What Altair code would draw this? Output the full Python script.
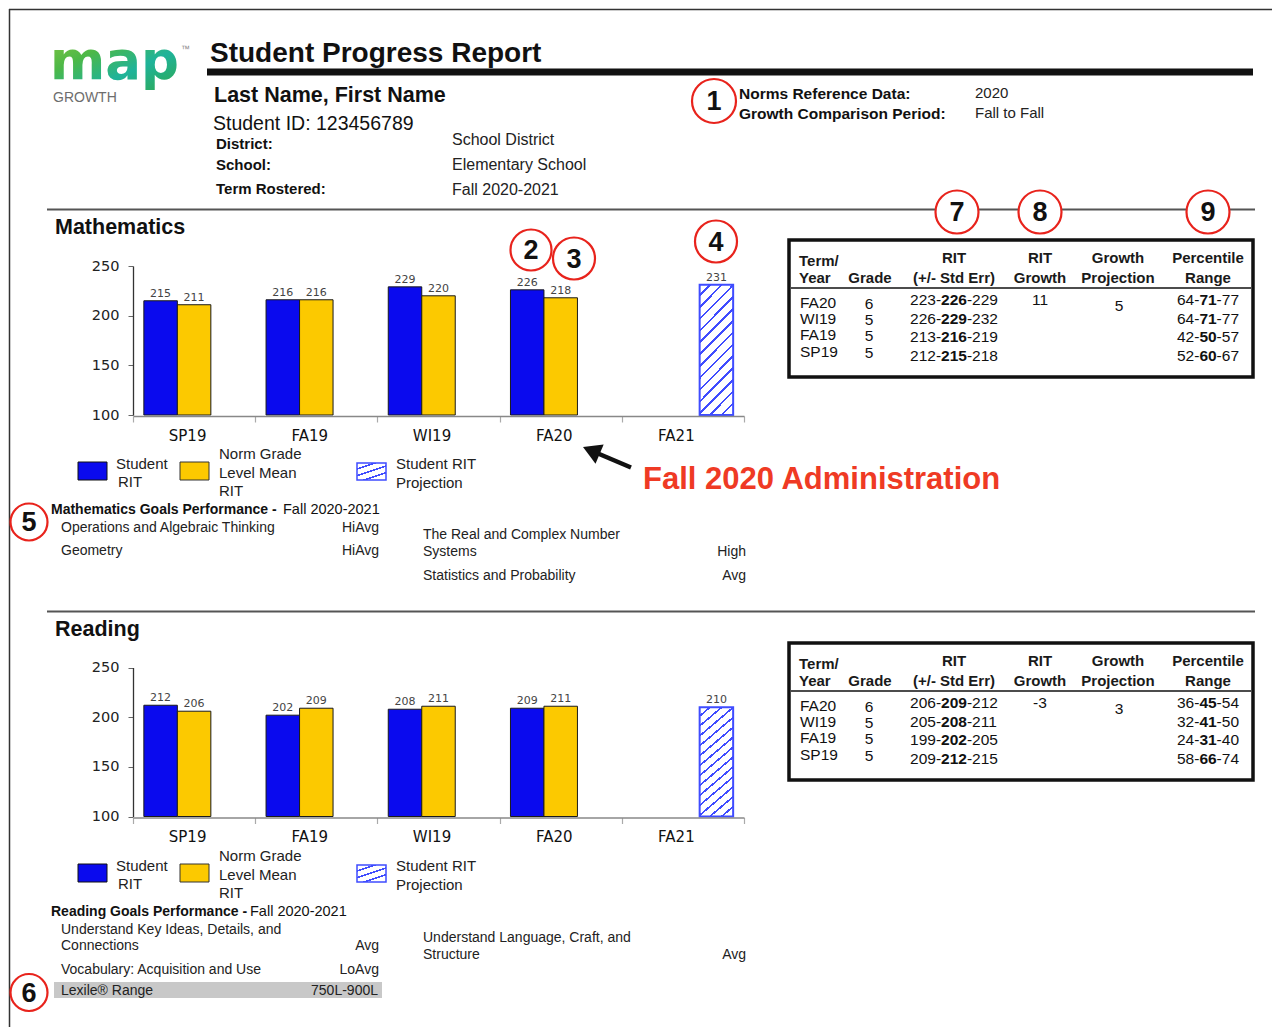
import altair as alt
import pandas as pd

W, H = 1272, 1027
SANS = "Liberation Sans, Arial, Helvetica, sans-serif"
DJV = "DejaVu Sans, Verdana, sans-serif"
RED = "#e8231c"
BLUE = "#0a0aee"
YELLOW = "#fcc900"
HATCH_BLUE = "#3f4cff"

# ---------------- data ----------------
terms = ["SP19", "FA19", "WI19", "FA20", "FA21"]
series = ["Student RIT", "Norm Grade Level Mean RIT", "Student RIT Projection"]
math_student = [215, 216, 229, 226]
math_norm = [211, 216, 220, 218]
math_projection = 231
read_student = [212, 202, 208, 209]
read_norm = [206, 209, 211, 211]
read_projection = 210
y_ticks = [100, 150, 200, 250]

table_terms = ["FA20", "WI19", "FA19", "SP19"]
table_grades = ["6", "5", "5", "5"]
math_rit_lo = ["223", "226", "213", "212"]
math_rit_mid = ["226", "229", "216", "215"]
math_rit_hi = ["229", "232", "219", "218"]
math_growth = "11"
math_growth_proj = "5"
math_pct_lo = ["64", "64", "42", "52"]
math_pct_mid = ["71", "71", "50", "60"]
math_pct_hi = ["77", "77", "57", "67"]
read_rit_lo = ["206", "205", "199", "209"]
read_rit_mid = ["209", "208", "202", "212"]
read_rit_hi = ["212", "211", "205", "215"]
read_growth = "-3"
read_growth_proj = "3"
read_pct_lo = ["36", "32", "24", "58"]
read_pct_mid = ["45", "41", "31", "66"]
read_pct_hi = ["54", "50", "40", "74"]

header_labels = ["District:", "School:", "Term Rostered:"]
header_values = ["School District", "Elementary School", "Fall 2020-2021"]

one = pd.DataFrame({"a": [0]})
bg_layers, fg_layers = [], []


def T(x, y, s, size=14, bold=False, color="#1a1a1a", align="left",
      baseline="middle", font=SANS, target=None, **kw):
    (fg_layers if target is None else target).append(
        alt.Chart(one).mark_text(align=align, baseline=baseline, fontSize=size,
                                 fontWeight="bold" if bold else "normal",
                                 color=color, font=font, **kw)
        .encode(x=alt.value(x), y=alt.value(y), text=alt.value(s)))


def hrule(x1, x2, y, color="#555", width=2, target=None):
    (bg_layers if target is None else target).append(
        alt.Chart(one).mark_rule(color=color, strokeWidth=width)
        .encode(x=alt.value(x1), x2=alt.value(x2), y=alt.value(y)))


def vrule(x, y1, y2, color="#555", width=2):
    bg_layers.append(alt.Chart(one).mark_rule(color=color, strokeWidth=width)
                     .encode(x=alt.value(x), y=alt.value(y1), y2=alt.value(y2)))


def rect(x1, x2, y1, y2, fill="white", stroke=None, sw=0, target=None):
    kw = {"fill": fill}
    if stroke:
        kw.update(stroke=stroke, strokeWidth=sw)
    (bg_layers if target is None else target).append(
        alt.Chart(one).mark_rect(**kw)
        .encode(x=alt.value(x1), x2=alt.value(x2), y=alt.value(y1), y2=alt.value(y2)))


def hatch(n, gx, gy, frac=0.22):
    """Diagonal '/' stripes built from a hard-stop linear gradient."""
    stops = []
    for k in range(n):
        a, b, c = k / n, (k + 1 - frac) / n, (k + 1) / n
        stops += [alt.GradientStop(color="white", offset=a),
                  alt.GradientStop(color="white", offset=b),
                  alt.GradientStop(color=HATCH_BLUE, offset=b),
                  alt.GradientStop(color=HATCH_BLUE, offset=c)]
    stops[-1] = alt.GradientStop(color="white", offset=1)
    stops[-2] = alt.GradientStop(color="white", offset=(n - frac) / n)
    return alt.LinearGradient(gradient="linear", stops=stops, x1=0, y1=0, x2=gx, y2=gy)


def circle_num(cx, cy, label, r=21):
    fg_layers.append(alt.Chart(one).mark_point(
        shape="circle", size=(2 * r) ** 2, filled=True, fill="white", opacity=1,
        stroke=RED, strokeWidth=2.2).encode(x=alt.value(cx), y=alt.value(cy)))
    T(cx, cy + 1, label, size=27, bold=True, color="#111", align="center")


# ---------------- page frame & header ----------------
hrule(9, W, 9.5, "#333", 1.5)
vrule(9.5, 9, H, "#333", 1.5)

logo_grad = alt.LinearGradient(gradient="linear", x1=0, y1=0, x2=1, y2=1, stops=[
    alt.GradientStop(color="#8cc63f", offset=0),
    alt.GradientStop(color="#4cb848", offset=0.35),
    alt.GradientStop(color="#1fb39a", offset=0.65),
    alt.GradientStop(color="#2fa84f", offset=1)])
T(50, 79, "map", size=53, bold=True, font=DJV, baseline="alphabetic", color=logo_grad)
T(181, 49, "™", size=9, color="#888")
T(53, 98, "GROWTH", size=14, color="#6d6d6d")

T(210, 62, "Student Progress Report", size=28, bold=True, baseline="alphabetic", color="#111")
rect(207, 1253, 68.5, 75.5, fill="#111")
T(214, 102, "Last Name, First Name", size=21.5, bold=True, baseline="alphabetic", color="#111")
T(213, 129.5, "Student ID: 123456789", size=19.5, baseline="alphabetic", color="#111")
for lab, val, yl, yv in zip(header_labels, header_values, [144, 165, 189], [140, 165, 190]):
    T(216, yl, lab, size=15, bold=True, color="#111")
    T(452, yv, val, size=16, color="#222")
T(739, 94, "Norms Reference Data:", size=15.5, bold=True, color="#111")
T(739, 113.5, "Growth Comparison Period:", size=15.5, bold=True, color="#111")
T(975, 93, "2020", size=15, color="#222")
T(975, 113, "Fall to Fall", size=15, color="#222")

hrule(47, 1255, 209.5, "#555", 2)
hrule(47, 1255, 611.5, "#555", 2)

# ---------------- bar charts ----------------
X0, X1 = 133, 744


def bar_group(student, norm, projection, y_base, y_top, axis_y):
    bar_df = pd.DataFrame({"term": terms[:4] + terms[:4],
                           "series": [series[0]] * 4 + [series[1]] * 4,
                           "rit": student + norm})
    proj_df = pd.DataFrame({"term": [terms[4]], "series": [series[2]], "rit": [projection]})
    xs = alt.Scale(domain=terms, range=[X0, X1], paddingInner=0, paddingOuter=0)
    ys = alt.Scale(domain=[100, 250], range=[y_base, y_top], zero=False, nice=False)
    xos = alt.Scale(domain=series, paddingInner=0, paddingOuter=0.324)
    x_ax = alt.Axis(orient="bottom", offset=axis_y - H, title=None, grid=False,
                    domainColor="#888", domainWidth=1.6, tickColor="#aaa", tickWidth=1.2,
                    tickSize=6, tickBand="extent", labelFont=DJV, labelFontSize=15,
                    labelColor="#111", labelPadding=6, labelAngle=0, labelOffset=-7,
                    zindex=1)
    y_ax = alt.Axis(orient="left", offset=-X0, title=None, grid=False, values=y_ticks,
                    domainColor="#333", domainWidth=1.3, tickColor="#666", tickSize=5,
                    labelFont=DJV, labelFontSize=14.5, labelColor="#222", labelPadding=9,
                    zindex=1)
    xe = alt.X("term:N", scale=xs, axis=x_ax)
    ye = alt.Y("rit:Q", scale=ys, axis=y_ax)
    xo = alt.XOffset("series:N", scale=xos)
    bars = alt.Chart(bar_df).mark_bar(stroke="#1a1a1a", strokeWidth=1).encode(
        x=xe, xOffset=xo, y=ye, y2=alt.datum(100),
        color=alt.Color("series:N", scale=alt.Scale(domain=series, range=[BLUE, YELLOW, "white"]),
                        legend=None))
    proj = alt.Chart(proj_df).mark_bar(fill=hatch(14, 0.31, 1.19), stroke=HATCH_BLUE,
                                       strokeWidth=2).encode(
        x=xe, xOffset=xo, y=ye, y2=alt.datum(100))
    lab_kw = dict(baseline="bottom", dy=-2, font=DJV, fontSize=11, color="#444")
    lab = alt.Chart(bar_df).mark_text(**lab_kw).encode(x=xe, xOffset=xo, y=ye, text="rit:Q")
    plab = alt.Chart(proj_df).mark_text(**lab_kw).encode(x=xe, xOffset=xo, y=ye, text="rit:Q")
    return alt.layer(bars, proj, lab, plab)


math_chart = bar_group(math_student, math_norm, math_projection, 415, 266, 416)
read_chart = bar_group(read_student, read_norm, read_projection, 816.5, 667.5, 817.5)


# ---------------- sections ----------------
def section(off, title):
    T(55, 228 + off, title, size=21.5, bold=True, color="#111")
    # legend
    rect(78, 107, 462 + off, 480 + off, fill=BLUE, stroke="#111", sw=1, target=fg_layers)
    T(116, 464 + off, "Student", size=15, color="#222")
    T(118, 482 + off, "RIT", size=15, color="#222")
    rect(180, 209, 462 + off, 480 + off, fill=YELLOW, stroke="#333", sw=1, target=fg_layers)
    T(219, 454 + off, "Norm Grade", size=15, color="#222")
    T(219, 473 + off, "Level Mean", size=15, color="#222")
    T(219, 491 + off, "RIT", size=15, color="#222")
    rect(357, 386, 463 + off, 480 + off, fill=hatch(4, 0.68, 1.19, 0.25), stroke=HATCH_BLUE,
         sw=1.5, target=fg_layers)
    T(396, 464 + off, "Student RIT", size=15, color="#222")
    T(396, 483 + off, "Projection", size=15, color="#222")


def table(off, rit_lo, rit_mid, rit_hi, growth, gproj, pct_lo, pct_mid, pct_hi):
    rect(789, 1253, 240 + off, 377 + off, fill="white", stroke="#111", sw=3.5)
    hrule(791, 1251, 288 + off, "#111", 1.5)
    hs = 15
    T(799, 261 + off, "Term/", size=hs, bold=True)
    T(799, 278 + off, "Year", size=hs, bold=True)
    T(870, 278 + off, "Grade", size=hs, bold=True, align="center")
    for cx, l1, l2 in [(954, "RIT", "(+/- Std Err)"), (1040, "RIT", "Growth"),
                       (1118, "Growth", "Projection"), (1208, "Percentile", "Range")]:
        T(cx, 258 + off, l1, size=hs, bold=True, align="center")
        T(cx, 278 + off, l2, size=hs, bold=True, align="center")
    fs = 15.5
    term_y = [303, 319, 335, 352]
    val_y = [300, 318.5, 337, 356]

    def split(cx, y, lo, mid, hi):
        half = len(mid) * 0.556 * fs / 2
        T(cx - half, y, lo + "-", size=fs, align="right", color="#111")
        T(cx, y, mid, size=fs, bold=True, align="center", color="#111")
        T(cx + half, y, "-" + hi, size=fs, align="left", color="#111")

    for i in range(4):
        T(800, term_y[i] + off, table_terms[i], size=fs, color="#111")
        T(869, term_y[i] + 1 + off, table_grades[i], size=fs, align="center", color="#111")
        split(954, val_y[i] + off, rit_lo[i], rit_mid[i], rit_hi[i])
        split(1208, val_y[i] + off, pct_lo[i], pct_mid[i], pct_hi[i])
    T(1040, 300 + off, growth, size=fs, align="center", color="#111")
    T(1119, 306 + off, gproj, size=fs, align="center", color="#111")


section(0, "Mathematics")
section(402, "Reading")
table(0, math_rit_lo, math_rit_mid, math_rit_hi, math_growth, math_growth_proj,
      math_pct_lo, math_pct_mid, math_pct_hi)
table(403, read_rit_lo, read_rit_mid, read_rit_hi, read_growth, read_growth_proj,
      read_pct_lo, read_pct_mid, read_pct_hi)

# goals - mathematics
GS, GC = 14, "#222"
T(51, 510, "Mathematics Goals Performance - ", size=14, bold=True, color="#111")
T(283, 510, "Fall 2020-2021", size=14.5, color="#111")
T(61, 528, "Operations and Algebraic Thinking", size=GS, color=GC)
T(379, 528, "HiAvg", size=GS, color=GC, align="right")
T(61, 551, "Geometry", size=GS, color=GC)
T(379, 551, "HiAvg", size=GS, color=GC, align="right")
T(423, 535, "The Real and Complex Number", size=GS, color=GC)
T(423, 551.5, "Systems", size=GS, color=GC)
T(746, 551.5, "High", size=GS, color=GC, align="right")
T(423, 576, "Statistics and Probability", size=GS, color=GC)
T(746, 576, "Avg", size=GS, color=GC, align="right")

# goals - reading
T(51, 912, "Reading Goals Performance - ", size=14, bold=True, color="#111")
T(250, 912, "Fall 2020-2021", size=14.5, color="#111")
T(61, 929.5, "Understand Key Ideas, Details, and", size=GS, color=GC)
T(61, 946, "Connections", size=GS, color=GC)
T(379, 946, "Avg", size=GS, color=GC, align="right")
T(61, 969.5, "Vocabulary: Acquisition and Use", size=GS, color=GC)
T(379, 969.5, "LoAvg", size=GS, color=GC, align="right")
rect(54, 382, 982, 998, fill="#c8c8c8")
T(61, 990.5, "Lexile® Range", size=GS, color=GC)
T(378, 990.5, "750L-900L", size=GS, color=GC, align="right")
T(423, 938, "Understand Language, Craft, and", size=GS, color=GC)
T(423, 954.5, "Structure", size=GS, color=GC)
T(746, 954.5, "Avg", size=GS, color=GC, align="right")

# annotation: arrow + Fall 2020 Administration
fg_layers.append(alt.Chart(one).mark_rule(color="#111", strokeWidth=4.5).encode(
    x=alt.value(631), y=alt.value(467.5), x2=alt.value(598), y2=alt.value(453.5)))
fg_layers.append(alt.Chart(one).mark_point(shape="triangle-up", size=433, filled=True,
                                           color="#111", opacity=1, angle=293).encode(
    x=alt.value(591.3), y=alt.value(450.6)))
T(643, 480, "Fall 2020 Administration", size=31, bold=True, color="#ef3a24")

# numbered red circles
circle_num(714, 101, "1", r=22)
circle_num(531, 250, "2", r=20.5)
circle_num(574, 258.5, "3", r=21)
circle_num(716, 241.5, "4", r=21)
circle_num(29, 522, "5", r=18.5)
circle_num(29, 992.5, "6", r=18.5)
circle_num(957, 212, "7", r=21.5)
circle_num(1040, 212, "8", r=21.5)
circle_num(1208, 212, "9", r=21.5)

chart = alt.layer(*bg_layers, math_chart, read_chart, *fg_layers).resolve_scale(
    x="independent", y="independent", xOffset="independent", color="independent"
).properties(
    width=W, height=H, autosize=alt.AutoSizeParams(type="none"), padding=0, background="white"
).configure_view(strokeWidth=0)

chart.save("out.html", embed_options={"renderer": "svg", "actions": False})
